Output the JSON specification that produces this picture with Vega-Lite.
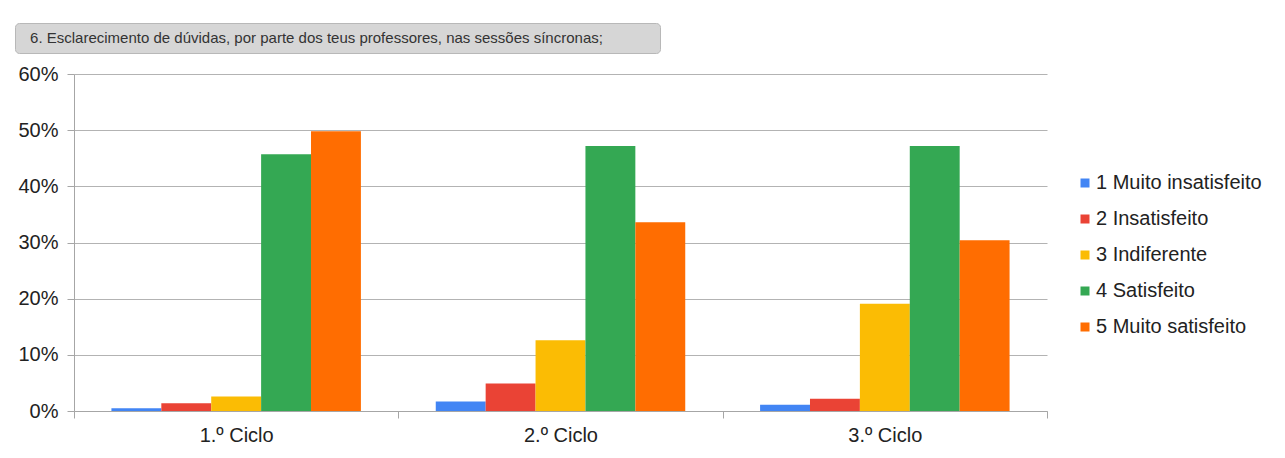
{
  "$schema": "https://vega.github.io/schema/vega-lite/v6.json",
  "background": "white",
  "padding": {"left": 14, "top": 22, "right": 0, "bottom": 0},
  "config": {"font": "Liberation Sans"},
  "bounds": "flush",
  "spacing": 21,
  "vconcat": [
    {
      "width": 645,
      "height": 30,
      "view": {"fill": "#d6d6d6", "stroke": "#b8b8b8", "cornerRadius": 4},
      "data": {"values": [{"title": "6. Esclarecimento de dúvidas, por parte dos teus professores, nas sessões síncronas;"}]},
      "mark": {"type": "text", "font": "Liberation Sans", "fontSize": 15, "color": "#333333", "dx": -21},
      "encoding": {"text": {"field": "title"}}
    },
    {
      "spacing": 0,
      "hconcat": [
        {
          "width": 1,
          "height": 337,
          "view": {"stroke": null},
          "data": {"values": []},
          "mark": "point"
        },
        {
          "width": 973,
          "height": 337,
          "view": {"stroke": null},
          "data": {"values": [
            {"ciclo": "1.º Ciclo", "resposta": "1 Muito insatisfeito", "valor": 0.005},
            {"ciclo": "1.º Ciclo", "resposta": "2 Insatisfeito", "valor": 0.014},
            {"ciclo": "1.º Ciclo", "resposta": "3 Indiferente", "valor": 0.026},
            {"ciclo": "1.º Ciclo", "resposta": "4 Satisfeito", "valor": 0.457},
            {"ciclo": "1.º Ciclo", "resposta": "5 Muito satisfeito", "valor": 0.498},
            {"ciclo": "2.º Ciclo", "resposta": "1 Muito insatisfeito", "valor": 0.017},
            {"ciclo": "2.º Ciclo", "resposta": "2 Insatisfeito", "valor": 0.049},
            {"ciclo": "2.º Ciclo", "resposta": "3 Indiferente", "valor": 0.126},
            {"ciclo": "2.º Ciclo", "resposta": "4 Satisfeito", "valor": 0.472},
            {"ciclo": "2.º Ciclo", "resposta": "5 Muito satisfeito", "valor": 0.336},
            {"ciclo": "3.º Ciclo", "resposta": "1 Muito insatisfeito", "valor": 0.011},
            {"ciclo": "3.º Ciclo", "resposta": "2 Insatisfeito", "valor": 0.022},
            {"ciclo": "3.º Ciclo", "resposta": "3 Indiferente", "valor": 0.191},
            {"ciclo": "3.º Ciclo", "resposta": "4 Satisfeito", "valor": 0.472},
            {"ciclo": "3.º Ciclo", "resposta": "5 Muito satisfeito", "valor": 0.304}
          ]},
          "mark": {"type": "bar"},
          "encoding": {
            "x": {
              "field": "ciclo", "type": "nominal",
              "scale": {"paddingInner": 0, "paddingOuter": 0},
              "axis": {
                "title": null, "labelAngle": 0, "tickBand": "extent", "grid": false,
                "domainColor": "#a6a6a6", "tickColor": "#a6a6a6", "tickSize": 7,
                "labelFontSize": 20, "labelPadding": 7, "labelColor": "#222222"
              }
            },
            "xOffset": {
              "field": "resposta", "type": "nominal",
              "scale": {"paddingInner": 0, "paddingOuter": 0.75}
            },
            "y": {
              "field": "valor", "type": "quantitative",
              "scale": {"domain": [0, 0.6], "nice": false},
              "axis": {
                "title": null, "format": ".0%", "values": [0, 0.1, 0.2, 0.3, 0.4, 0.5, 0.6],
                "grid": true, "gridColor": "#b3b3b3", "domainColor": "#a6a6a6",
                "tickColor": "#a6a6a6", "tickSize": 7, "labelFontSize": 20,
                "labelPadding": 9, "minExtent": 58, "labelColor": "#222222"
              }
            },
            "color": {
              "field": "resposta", "type": "nominal",
              "scale": {
                "domain": ["1 Muito insatisfeito", "2 Insatisfeito", "3 Indiferente", "4 Satisfeito", "5 Muito satisfeito"],
                "range": ["#4285F4", "#EA4335", "#FBBC04", "#34A853", "#FF6D01"]
              },
              "legend": {
                "title": null, "orient": "none", "legendX": 1001, "legendY": 99,
                "symbolType": "square", "symbolSize": 81, "symbolStrokeWidth": 0,
                "labelFontSize": 20, "labelLimit": 260, "rowPadding": 16, "labelOffset": 1, "labelColor": "#222222"
              }
            }
          }
        }
      ],
      "resolve": {"legend": {"color": "independent"}}
    }
  ],
  "resolve": {"legend": {"color": "independent"}}
}
